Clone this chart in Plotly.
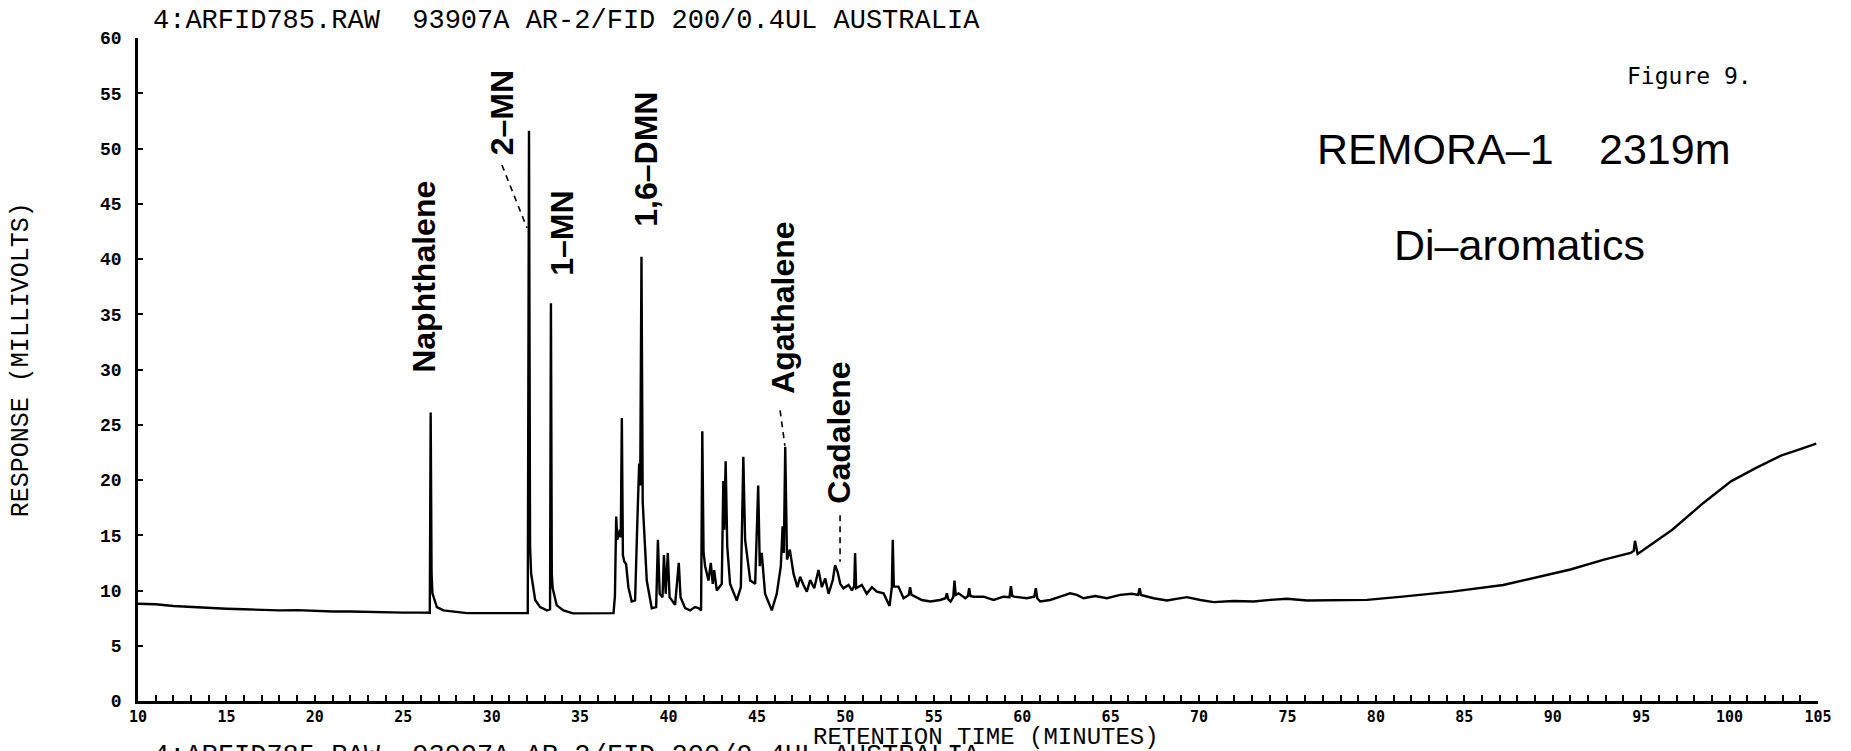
import plotly.graph_objects as go

# ---- chromatogram trace: retention time (min) vs FID response (mV) ----
# flat early baseline before the first eluting peak
base_rt = [10.0, 11.0, 12.0, 13.0, 14.0, 15.0, 16.0, 17.0, 18.0, 19.0,
           20.0, 21.0, 22.0, 23.0, 24.0, 25.0, 26.0, 26.50]
base_mv = [8.80, 8.75, 8.60, 8.50, 8.45, 8.35, 8.30, 8.25, 8.20, 8.22,
           8.15, 8.10, 8.10, 8.05, 8.00, 8.00, 8.00, 7.98]

# naphthalene, 2-methyl- and 1-methylnaphthalene
mn_rt = [26.55, 26.60, 26.65, 26.90, 27.27, 28.60, 29.50, 30.50, 31.50,
         32.04, 32.11, 32.17, 32.23, 32.46, 32.74, 33.12, 33.30, 33.35,
         33.40, 33.45, 33.68, 34.06, 34.60, 35.50, 36.89]
mn_mv = [26.1, 11.5, 9.75, 8.50, 8.20, 7.95, 7.95, 7.95, 7.92,
         7.95, 51.6, 14.0, 11.55, 9.14, 8.50, 8.20, 8.30, 36.0,
         11.5, 10.2, 8.65, 8.20, 7.93, 7.92, 7.95]

# dimethylnaphthalenes through cadalene
dmn_rt = [36.97, 37.04, 37.10, 37.25, 37.30, 37.36, 37.42, 37.50, 37.60,
          37.73, 37.92, 38.11, 38.24, 38.34, 38.40, 38.47, 38.54, 38.62,
          38.77, 39.05, 39.30, 39.40, 39.50, 39.66, 39.74, 39.84, 39.96,
          40.06, 40.37, 40.58, 40.68, 40.94, 41.22, 41.50, 41.69, 41.84,
          41.91, 41.98, 42.07, 42.26, 42.39, 42.50, 42.58, 42.73, 43.01,
          43.10, 43.15, 43.23, 43.32, 43.48, 43.86, 44.09, 44.23, 44.33,
          44.62, 44.90, 45.07, 45.16, 45.27, 45.46, 45.84, 46.12, 46.35,
          46.45, 46.52, 46.60, 46.70, 46.86, 47.07, 47.29, 47.44, 47.63,
          47.82, 48.01, 48.24, 48.48, 48.67, 48.86, 49.05, 49.29, 49.42,
          49.56, 49.71, 49.89, 50.18, 50.37, 50.50, 50.55, 50.61, 50.93,
          51.21, 51.50, 51.78, 52.16]
dmn_mv = [9.50, 16.7, 14.6, 15.5, 14.8, 25.6, 13.2, 12.6, 12.4,
          10.3, 9.00, 9.10, 16.4, 21.5, 19.5, 40.2, 18.0, 15.0,
          10.9, 8.40, 8.50, 14.6, 9.70, 9.40, 13.2, 9.70, 13.4,
          9.40, 8.70, 12.5, 9.40, 8.40, 8.20, 8.50, 8.40, 8.20,
          24.4, 13.5, 12.2, 10.9, 12.5, 10.6, 11.85, 10.0, 10.6,
          19.9, 15.5, 21.7, 14.0, 10.6, 9.10, 10.3, 22.1, 14.6,
          10.9, 10.6, 19.5, 12.2, 13.4, 9.70, 8.20, 9.70, 12.2,
          15.8, 13.4, 23.0, 12.8, 13.7, 11.5, 10.3, 11.25, 10.5,
          9.90, 10.95, 10.2, 11.85, 10.3, 11.1, 9.70, 10.95, 12.3,
          11.7, 10.6, 10.2, 10.5, 10.0, 10.4, 13.4, 10.2, 10.5,
          9.70, 10.3, 9.90, 9.74]

# later minor peaks, flat mid-run baseline and rising column bleed
late_rt = [52.50, 52.63, 52.68, 52.74, 53.00, 53.29, 53.58, 53.66, 53.74,
           53.95, 54.32, 54.80, 55.36, 55.66, 55.74, 55.82, 55.95, 56.10,
           56.17, 56.24, 56.40, 56.78, 56.93, 57.00, 57.07, 57.25, 57.81,
           58.38, 58.94, 59.28, 59.36, 59.44, 59.55, 60.26, 60.68, 60.77,
           60.85, 61.02, 61.58, 62.15, 62.71, 63.09, 63.47, 64.13, 64.79,
           65.54, 66.20, 66.56, 66.64, 66.72, 67.43, 68.18, 69.31, 70.07,
           70.82, 71.95, 73.08, 74.03, 74.97, 76.10, 77.50, 79.50, 81.50,
           84.30, 87.20, 89.10, 91.00, 92.90, 94.40, 94.58, 94.65, 94.80,
           96.76, 98.50, 100.10, 101.50, 102.90, 104.00, 104.90]
late_mv = [8.60, 10.35, 14.6, 10.35, 10.35, 9.30, 9.60, 10.3, 9.60,
           9.44, 9.14, 9.00, 9.14, 9.30, 9.74, 9.20, 9.00, 9.40,
           10.9, 9.60, 9.74, 9.30, 9.50, 10.2, 9.50, 9.44, 9.44,
           9.14, 9.44, 9.40, 10.4, 9.50, 9.44, 9.30, 9.44, 10.2,
           9.30, 9.00, 9.14, 9.44, 9.74, 9.60, 9.30, 9.50, 9.30,
           9.60, 9.70, 9.60, 10.2, 9.60, 9.30, 9.10, 9.40, 9.14,
           8.95, 9.05, 9.00, 9.15, 9.25, 9.10, 9.10, 9.15, 9.45,
           9.90, 10.5, 11.2, 11.9, 12.8, 13.4, 13.6, 14.5, 13.3,
           15.5, 17.9, 19.9, 21.1, 22.2, 22.8, 23.3]

rt = base_rt + mn_rt + dmn_rt + late_rt
mv = base_mv + mn_mv + dmn_mv + late_mv

# axis ticks
x_ticks = [10, 15, 20, 25, 30, 35, 40, 45, 50, 55, 60, 65, 70, 75, 80, 85, 90, 95, 100, 105]
y_ticks = [0, 5, 10, 15, 20, 25, 30, 35, 40, 45, 50, 55, 60]

# compound identifications
peak_names = ["Naphthalene", "2\u2013MN", "1\u2013MN", "1,6\u2013DMN", "Agathalene", "Cadalene"]

INK = "black"
MONO = "Liberation Mono, DejaVu Sans Mono, monospace"
SANS = "Liberation Sans, Arial, Helvetica, sans-serif"

fig = go.Figure()
fig.add_trace(go.Scatter(
    x=rt, y=mv, mode="lines",
    line=dict(color=INK, width=2.4),
    hoverinfo="skip", showlegend=False,
))

fig.update_layout(
    width=1851, height=751, autosize=False,
    margin=dict(l=138, r=33, t=38, b=50, pad=0),
    paper_bgcolor="white", plot_bgcolor="white",
    showlegend=False,
)

fig.update_xaxes(
    range=[10, 105], showgrid=False, zeroline=False,
    showline=True, linecolor=INK, linewidth=2.6,
    tickvals=x_ticks, ticktext=[str(v) for v in x_ticks],
    ticks="inside", ticklen=6, tickwidth=2, tickcolor=INK,
    ticklabelstandoff=0,
    tickfont=dict(family="DejaVu Sans Mono, monospace", size=15, color=INK, weight="bold"),
    minor=dict(dtick=1, tick0=10, ticks="inside", ticklen=6,
               tickwidth=1.6, tickcolor=INK, showgrid=False),
)
fig.update_yaxes(
    range=[0, 60], showgrid=False, zeroline=False,
    showline=True, linecolor=INK, linewidth=2.6,
    tickvals=y_ticks, ticktext=[str(v) for v in y_ticks],
    ticks="inside", ticklen=5, tickwidth=2, tickcolor=INK,
    ticklabelstandoff=10,
    tickfont=dict(family=MONO, size=18, color=INK, weight="bold"),
)

# rotated peak labels (x, y in data units)
label_pos = [(26.18, 38.4), (30.59, 53.2), (33.93, 42.3),
             (38.68, 49.0), (46.43, 35.6), (49.65, 24.3)]
for name, (lx, ly) in zip(peak_names, label_pos):
    fig.add_annotation(
        x=lx, y=ly, xref="x", yref="y", text=name, textangle=-90,
        showarrow=False, xanchor="center", yanchor="middle",
        font=dict(family=SANS, size=32, color=INK, weight="bold"),
    )

# dashed leaders from labels to their peaks
leaders = [((30.58, 48.5), (32.00, 42.8)),
           ((46.31, 26.3), (46.58, 23.1)),
           ((49.70, 16.8), (49.70, 12.6))]
for (x0, y0), (x1, y1) in leaders:
    fig.add_shape(type="line", xref="x", yref="y", x0=x0, y0=y0, x1=x1, y1=y1,
                  line=dict(color=INK, width=1.6, dash="6px,5px"))

# run header, repeated at the foot of the page
header = "4:ARFID785.RAW  93907A AR-2/FID 200/0.4UL AUSTRALIA"
fig.add_annotation(x=0.0077, y=1.0256, xref="paper", yref="paper", text=header,
                   showarrow=False, xanchor="left", yanchor="middle",
                   font=dict(family=MONO, size=27, color=INK))
fig.add_annotation(x=0.0077, y=-0.057, xref="paper", yref="paper", text=header,
                   showarrow=False, xanchor="left", yanchor="top",
                   font=dict(family=MONO, size=27, color=INK))

# axis titles
fig.add_annotation(x=0.5048, y=-0.0545, xref="paper", yref="paper",
                   text="RETENTION TIME (MINUTES)", showarrow=False,
                   xanchor="center", yanchor="middle",
                   font=dict(family=MONO, size=24, color=INK))
fig.add_annotation(x=-0.0696, y=0.514, xref="paper", yref="paper",
                   text="RESPONSE (MILLIVOLTS)", textangle=-90, showarrow=False,
                   xanchor="center", yanchor="middle",
                   font=dict(family=MONO, size=25, color=INK))

# figure caption and sample identification
fig.add_annotation(x=0.9238, y=0.942, xref="paper", yref="paper", text="Figure 9.",
                   showarrow=False, xanchor="center", yanchor="middle",
                   font=dict(family="DejaVu Sans Mono, monospace", size=23, color=INK))
fig.add_annotation(x=0.7723, y=0.8333, xref="paper", yref="paper", text="REMORA\u20131",
                   showarrow=False, xanchor="center", yanchor="middle",
                   font=dict(family=SANS, size=43, color=INK))
fig.add_annotation(x=0.9089, y=0.8333, xref="paper", yref="paper", text="2319m",
                   showarrow=False, xanchor="center", yanchor="middle",
                   font=dict(family=SANS, size=43, color=INK))
fig.add_annotation(x=0.8226, y=0.6878, xref="paper", yref="paper", text="Di\u2013aromatics",
                   showarrow=False, xanchor="center", yanchor="middle",
                   font=dict(family=SANS, size=43, color=INK))

fig.write_html("out.html")
